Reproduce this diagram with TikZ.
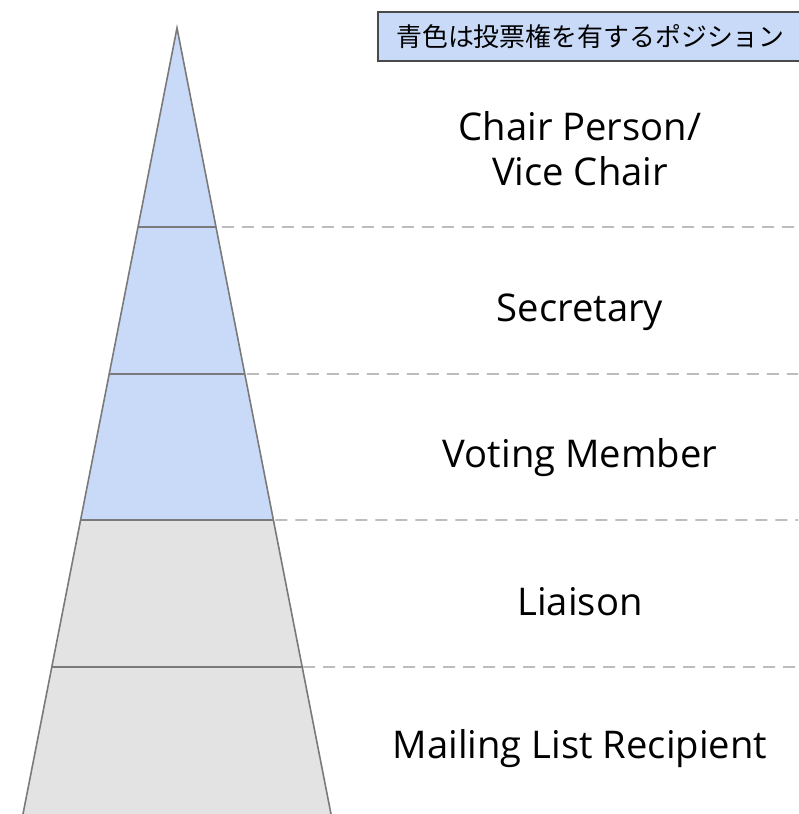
\documentclass[tikz,border=0pt]{standalone}
\usepackage{fontspec}
\setmainfont{Open Sans}
\newfontfamily\jpfont{Noto Sans CJK JP}
\usetikzlibrary{calc}
\definecolor{voteblue}{HTML}{C9DAF8}
\definecolor{nonvote}{HTML}{E3E3E3}
\definecolor{edgegray}{HTML}{7A7A7A}
\definecolor{dashgray}{HTML}{BDBDBD}
\definecolor{boxborder}{HTML}{4A4A4A}
\tikzset{
  tierline/.style={draw=edgegray, line width=1.6pt},
  guide/.style={draw=dashgray, line width=1.8pt, dash pattern=on 12pt off 8pt},
  tierlabel/.style={anchor=base, font=\fontsize{38.2}{45}\selectfont, align=center, inner sep=0pt},
  legendbox/.style={draw=boxborder, fill=voteblue, line width=1.2pt}
}
\begin{document}
\begin{tikzpicture}[x=1pt,y=1pt]
\useasboundingbox (0,0) rectangle (798,814);
% pyramid key points
\coordinate (apex) at (177,786);
\coordinate (bl) at (23,0);
\coordinate (br) at (331,0);
\coordinate (l1) at ($(apex)!0.2532!(bl)$);
\coordinate (r1) at ($(apex)!0.2532!(br)$);
\coordinate (l2) at ($(apex)!0.4402!(bl)$);
\coordinate (r2) at ($(apex)!0.4402!(br)$);
\coordinate (l3) at ($(apex)!0.6260!(bl)$);
\coordinate (r3) at ($(apex)!0.6260!(br)$);
\coordinate (l4) at ($(apex)!0.8130!(bl)$);
\coordinate (r4) at ($(apex)!0.8130!(br)$);
% fills
\fill[voteblue] (apex) -- (l3) -- (r3) -- cycle;
\fill[nonvote] (l3) -- (bl) -- (br) -- (r3) -- cycle;
% tier dividers
\draw[tierline] (l1) -- (r1);
\draw[tierline] (l2) -- (r2);
\draw[tierline] (l3) -- (r3);
\draw[tierline] (l4) -- (r4);
% sides
\draw[tierline, line join=miter] (bl) -- (apex) -- (br);
% dashed guides
\coordinate (e1) at (798,587);
\coordinate (e2) at (798,440);
\coordinate (e3) at (798,294);
\coordinate (e4) at (798,147);
\draw[guide] ([xshift=6pt]r1) -- (e1);
\draw[guide] ([xshift=2pt]r2) -- (e2);
\draw[guide] ([xshift=2pt]r3) -- (e3);
\draw[guide] ([xshift=1pt]r4) -- (e4);
% legend
\draw[legendbox] (378,753) rectangle (802,802);
\node[anchor=west, inner sep=0pt, font=\jpfont\fontsize{25.9}{30}\selectfont] (legend) at (396,777.5) {青色は投票権を有するポジション};
% labels
\node[tierlabel] (chair) at (580,673) {Chair Person/};
\node[tierlabel] (vice) at (580,628) {Vice Chair};
\node[tierlabel] (sec) at (580,492) {Secretary};
\node[tierlabel] (vote) at (580,346) {Voting Member};
\node[tierlabel] (liaison) at (580,198) {Liaison};
\node[tierlabel] (mail) at (580,55) {Mailing List Recipient};
\end{tikzpicture}
\end{document}
